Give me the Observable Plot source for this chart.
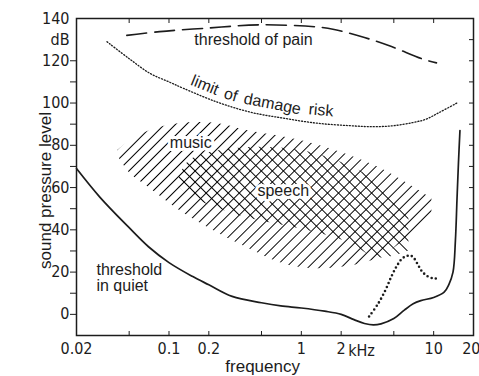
<!DOCTYPE html>
<html><head><meta charset="utf-8">
<script src="https://cdn.jsdelivr.net/npm/d3@7"></script>
<script src="https://cdn.jsdelivr.net/npm/@observablehq/plot@0.6"></script>
<style>body{margin:0;background:#fff}</style>
</head><body>
<svg width="0" height="0" style="position:absolute">
<defs>
<pattern id="hatchSlash" patternUnits="userSpaceOnUse" width="7.8" height="7.8" patternTransform="rotate(45)">
<line x1="1" y1="0" x2="1" y2="7.8" stroke="#000" stroke-width="1" shape-rendering="crispEdges"/>
</pattern>
<pattern id="hatchBack" patternUnits="userSpaceOnUse" width="7.8" height="7.8" patternTransform="rotate(-45)">
<line x1="1" y1="0" x2="1" y2="7.8" stroke="#000" stroke-width="1" shape-rendering="crispEdges"/>
</pattern>
</defs></svg>
<div id="chart"></div>
<script>
// threshold in quiet (kHz, dB)
const quietFreq  = [0.02, 0.03, 0.05, 0.07, 0.1, 0.15, 0.2, 0.3, 0.5, 0.7, 1, 1.5, 2, 2.5, 3, 3.5, 4, 5, 6, 7, 8, 10, 12, 13, 14, 14.6, 15, 15.4, 15.8];
const quietLevel = [69, 55.5, 41, 32, 24.5, 18, 14, 8.5, 5.5, 4, 3, 1.5, 0, -2.5, -4.3, -5, -4.5, -2, 2, 5, 6.5, 8, 10.5, 14, 20, 35, 54, 72, 87];
// dotted bump (hearing loss example)
const bumpFreq  = [3.25, 3.8, 4.36, 4.8, 5.28, 5.8, 6.27, 6.7, 7.08, 7.6, 8.13, 9, 10, 10.7];
const bumpLevel = [-1, 5, 12, 18, 23, 26.5, 27.6, 27.8, 26.7, 23.5, 20.5, 18, 17, 17];
// limit of damage risk
const damageFreq  = [0.034, 0.05, 0.072, 0.1, 0.128, 0.23, 0.41, 0.72, 1.3, 2.3, 3.5, 5, 7, 8.7, 11, 15];
const damageLevel = [129, 121, 114, 110, 107, 100.5, 95.7, 92.9, 90.5, 89.3, 88.8, 89.3, 90.8, 92.3, 95.5, 100];
// threshold of pain
const painFreq  = [0.048, 0.085, 0.2, 0.48, 1.3, 1.77, 3, 4.8, 8.1, 10.5];
const painLevel = [132, 133.8, 135.5, 137, 136, 134.8, 131, 126.7, 121, 119];
// music area
const musicFreq = [0.041, 0.051, 0.072, 0.121, 0.23, 0.386, 0.77, 1.54, 3.86, 9.7];
const musicLow  = [75, 66.6, 59.6, 49, 38.7, 31.6, 23.5, 21.7, 26.8, 46.8];
const musicHigh = [77.5, 82.3, 87, 90.3, 90.3, 87, 83.7, 79, 69.5, 54.8];
// speech area
const speechFreq = [0.117, 0.144, 0.342, 0.97, 2.1, 3.86, 6.5];
const speechLow  = [61, 56, 46.7, 40.5, 34.8, 26.7, 30];
const speechHigh = [63, 72.9, 78.6, 77.6, 71.4, 62.4, 49];
// ticks
const xTickLabels = [0.02, 0.05, 0.1, 0.2, 0.5, 1, 2, 5, 10];
const xLastLabel = [20];
const xTicks = [0.05, 0.1, 0.2, 0.5, 1, 2, 5, 10];
const yTickLabels = [0, 20, 40, 60, 80, 100, 120, 130, 140];
const yTicks = [0, 10, 20, 30, 40, 50, 60, 70, 80, 90, 100, 110, 120];
const yTicksRight = [0, 10, 20, 30, 40, 50, 60, 70, 80, 90, 100, 110, 120, 130];
// labels
const damageWords = ["limit", "of", "damage", "risk"];
const damageWordFreq = [0.187, 0.293, 0.605, 1.41];
const damageWordLevel = [108.5, 103.8, 99.6, 96.6];
const damageWordAngle = [22, 16, 11, 5];

const zip = (fs, ys) => fs.map((f, i) => ({f, db: ys[i]}));
const quiet = zip(quietFreq, quietLevel);
const bump = zip(bumpFreq, bumpLevel);
const damage = zip(damageFreq, damageLevel);
const pain = zip(painFreq, painLevel);
const music = musicFreq.map((f, i) => ({f, lo: musicLow[i], hi: musicHigh[i]}));
const speech = speechFreq.map((f, i) => ({f, lo: speechLow[i], hi: speechHigh[i]}));
const words = damageWords.map((t, i) => ({t, f: damageWordFreq[i], db: damageWordLevel[i], r: damageWordAngle[i]}));

const ink = "#1c1c1c";
const txtFont = "'Liberation Sans', Arial, sans-serif";

const chart = Plot.plot({
  width: 479, height: 376,
  marginLeft: 76, marginRight: 6, marginTop: 18, marginBottom: 41,
  style: {fontFamily: "'Liberation Sans Narrow', 'DejaVu Sans Condensed', sans-serif", fontSize: "16px", color: ink, background: "#fff"},
  x: {type: "log", domain: [0.02, 20]},
  y: {domain: [-10, 140]},
  marks: [
    Plot.areaY(music, {x: "f", y1: "lo", y2: "hi", fill: "url(#hatchSlash)", curve: "catmull-rom"}),
    Plot.areaY(speech, {x: "f", y1: "lo", y2: "hi", fill: "url(#hatchBack)", curve: "catmull-rom"}),
    Plot.line(quiet, {x: "f", y: "db", stroke: ink, strokeWidth: 1.7, curve: "catmull-rom"}),
    Plot.line(bump, {x: "f", y: "db", stroke: ink, strokeWidth: 2.6, strokeDasharray: "0 4.3", strokeLinecap: "round", curve: "catmull-rom"}),
    Plot.line(damage, {x: "f", y: "db", stroke: ink, strokeWidth: 1.3, strokeDasharray: "1.1 1.9", curve: "catmull-rom"}),
    Plot.line(pain, {x: "f", y: "db", stroke: ink, strokeWidth: 1.6, strokeDasharray: "20 8", curve: "catmull-rom"}),
    Plot.text([{t: "music", f: 0.146, db: 81}, {t: "speech", f: 0.73, db: 58.6}], {x: "f", y: "db", text: "t", fontFamily: txtFont, fontSize: 16, fill: ink, stroke: "#fff", strokeWidth: 6}),
    Plot.text([{t: "threshold of pain", f: 0.435, db: 130}], {x: "f", y: "db", text: "t", fontFamily: txtFont, fontSize: 16, fill: ink}),
    Plot.text([{t: "threshold\nin quiet", f: 0.0283, db: 17.4}], {x: "f", y: "db", text: "t", textAnchor: "start", lineHeight: 1.05, fontFamily: txtFont, fontSize: 16, fill: ink}),
    Plot.text(words, {x: "f", y: "db", text: "t", rotate: "r", fontFamily: txtFont, fontSize: 16, fill: ink}),
    Plot.frame({stroke: ink, strokeWidth: 1.5}),
    Plot.axisX({ticks: xTickLabels, tickSize: 0, tickPadding: 7, tickFormat: d => String(d), label: null}),
    Plot.axisX({ticks: xLastLabel, tickSize: 0, tickPadding: 7, tickFormat: d => String(d), textAnchor: "end", dx: 7, label: null}),
    Plot.text([{f: 2}], {x: "f", frameAnchor: "bottom", dy: 20, dx: 7, textAnchor: "start", text: () => "kHz", fill: ink}),
    Plot.axisX({ticks: xTicks, tickSize: -4, tickFormat: () => "", label: null}),
    Plot.axisX({anchor: "top", ticks: xTicks, tickSize: -4, tickFormat: () => "", label: null}),
    Plot.axisY({ticks: yTickLabels, tickSize: 0, tickPadding: 7, tickFormat: d => d === 130 ? "dB" : String(d), label: null}),
    Plot.axisY({ticks: yTicks, tickSize: 6, tickFormat: () => "", label: null}),
    Plot.axisY({anchor: "right", ticks: yTicksRight, tickSize: -5, tickFormat: () => "", label: null}),
    Plot.text([{f: 0.51}], {x: "f", frameAnchor: "bottom", dy: 36, text: () => "frequency", fontFamily: txtFont, fontSize: 17, fill: ink}),
    Plot.text([{db: 58.6}], {y: "db", frameAnchor: "left", dx: -31, rotate: -90, textAnchor: "middle", text: () => "sound pressure level", fontFamily: txtFont, fontSize: 17, fill: ink})
  ]
});
document.getElementById("chart").appendChild(chart);
</script>
</body></html>
